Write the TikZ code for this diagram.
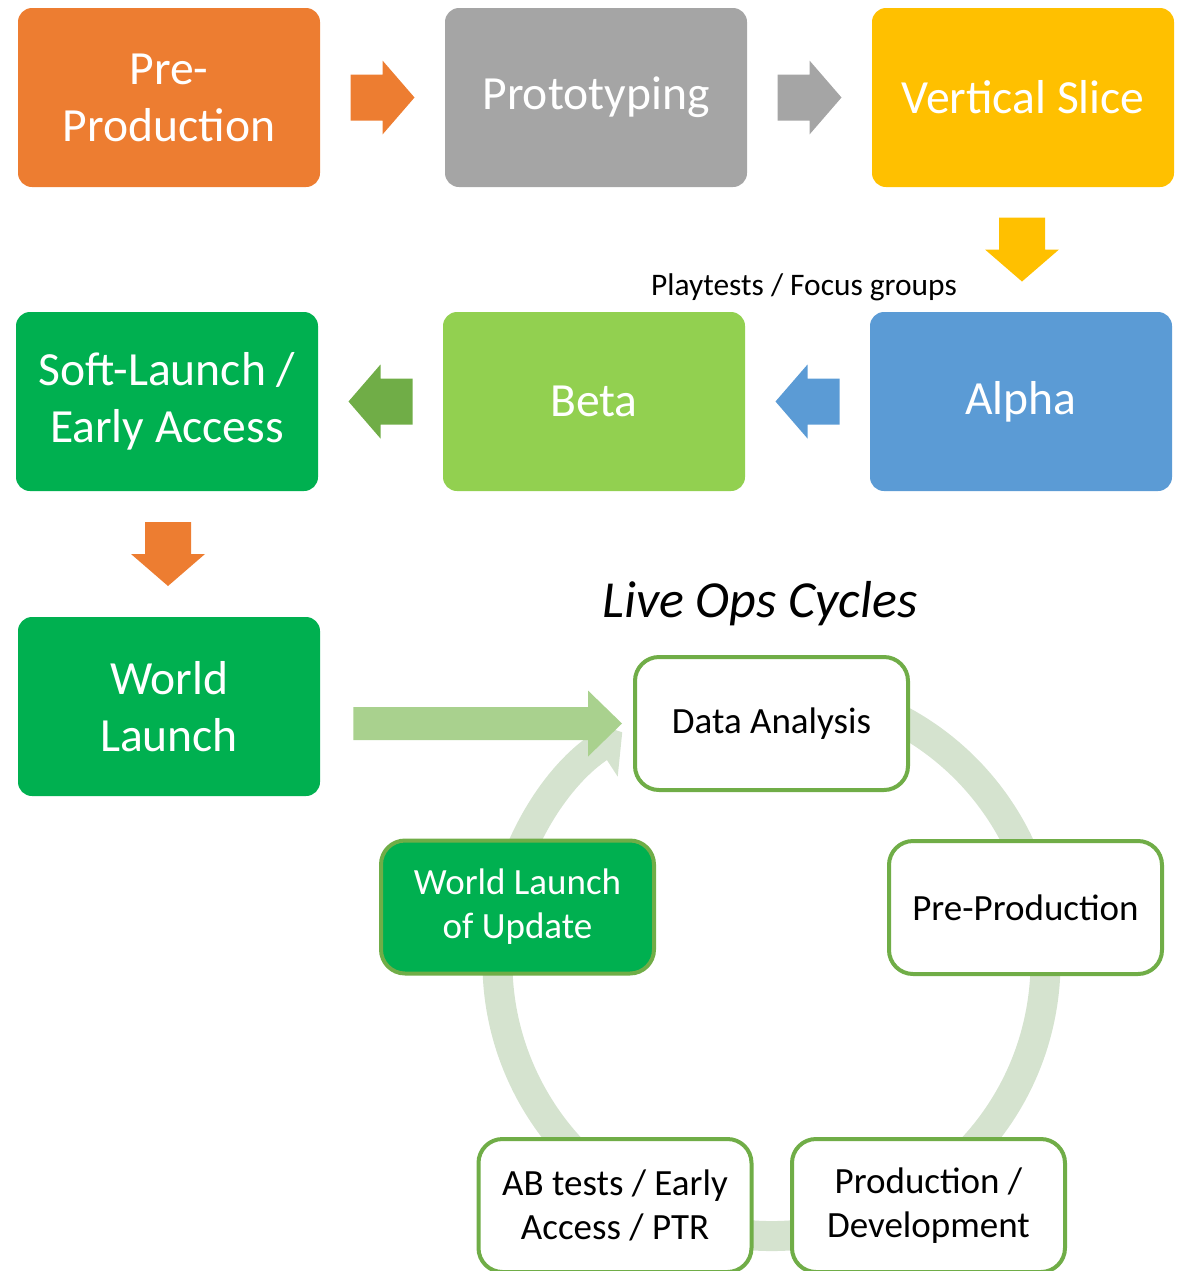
\documentclass[tikz,border=0pt]{standalone}
\usepackage{fontspec}
\setmainfont{Carlito}
\usetikzlibrary{arrows.meta}
\usetikzlibrary{calc}

\definecolor{stageorange}{HTML}{ED7D31}
\definecolor{stagegray}{HTML}{A5A5A5}
\definecolor{stagegold}{HTML}{FFC000}
\definecolor{stageblue}{HTML}{5B9BD5}
\definecolor{stagelime}{HTML}{92D050}
\definecolor{stagegreen}{HTML}{00B050}
\definecolor{cyclegreen}{HTML}{70AD47}
\definecolor{ringgreen}{HTML}{D5E3CF}
\definecolor{bigarrowgreen}{HTML}{A9D18E}

\tikzset{
    stage/.style = {rounded corners=7pt, minimum width=151pt, minimum height=89.5pt,
        inner sep=0pt, text=white, align=center, font=\fontsize{23.8}{28.5}\selectfont},
    cyclebox/.style = {draw=cyclegreen, line width=2pt, fill=white, rounded corners=12pt,
        minimum width=136.5pt, minimum height=66.5pt, inner sep=0pt, align=center,
        font=\fontsize{18.5}{22}\selectfont},
    ring/.style = {draw=ringgreen, line width=15pt, -{Triangle[length=14pt, width=34pt]}},
    blockarrow/.pic = {\fill (-32,-23) -- (0,-23) -- (0,-37) -- (32,0) -- (0,37) -- (0,23) -- (-32,23) -- cycle;}
}

\begin{document}
\begin{tikzpicture}[x=0.5pt, y=-0.5pt]
    \useasboundingbox (0,0) rectangle (1183,1271);

    % stages
    \node[stage, fill=stageorange] (pre) at (169,97.5) {Pre-\\Production};
    \node[stage, fill=stagegray] (proto) at (596,97.5) {Prototyping};
    \node[stage, fill=stagegold] (vslice) at (1023,97.5) {Vertical Slice};
    \node[stage, fill=stageblue] (alpha) at (1021,401.5) {Alpha};
    \node[stage, fill=stagelime] (beta) at (594,401.5) {Beta};
    \node[stage, fill=stagegreen] (soft) at (167,401.5) {Soft-Launch /\\Early Access};
    \node[stage, fill=stagegreen] (wl) at (169,706.5) {World\\Launch};

    \pic[stageorange] at ($(pre.east)!0.5!(proto.west)$) {blockarrow};
    \pic[stagegray] at ($(proto.east)!0.5!(vslice.west)$) {blockarrow};
    \pic[stagegold, rotate=-90] at ($(vslice.south)!0.5!(alpha.north)$) {blockarrow};
    \pic[stageblue, rotate=180] at ($(alpha.west)!0.5!(beta.east)$) {blockarrow};
    \pic[cyclegreen, rotate=180] at ($(beta.west)!0.5!(soft.east)$) {blockarrow};
    \pic[stageorange, rotate=-90] at ($(soft.south)!0.5!(wl.north)$) {blockarrow};

    \node[font=\fontsize{15.7}{19}\selectfont] (playtests) at (804,287) {Playtests / Focus groups};
    \node[font=\fontsize{26}{31}\selectfont\itshape] (liveops) at (760,604) {Live Ops Cycles};

    % live ops cycle
    \coordinate (hub) at (771.5,962);
    \draw[ring] ([shift={(-80:274)}]hub) arc[start angle=-80, end angle=237, radius=274];

    \node[cyclebox] (data) at (771.5,723.5) {Data Analysis};
    \fill[bigarrowgreen] ($(wl.east |- data.west)+(33,-16.5)$) -- ($(data.west)+(-45,-16.5)$)
        -- ($(data.west)+(-45,-33)$) -- ($(data.west)+(-11,0)$) -- ($(data.west)+(-45,33)$)
        -- ($(data.west)+(-45,16.5)$) -- ($(wl.east |- data.west)+(33,16.5)$) -- cycle;
    \node[cyclebox] (preprod) at (1025.5,907.5) {Pre-Production};
    \node[cyclebox] (prod) at (928.5,1205.5) {Production /\\Development};
    \node[cyclebox] (abtest) at (615,1205.5) {AB tests / Early\\Access / PTR};
    \node[cyclebox, fill=stagegreen, text=white] (wlu) at (517.5,907) {World Launch\\of Update};
\end{tikzpicture}
\end{document}
